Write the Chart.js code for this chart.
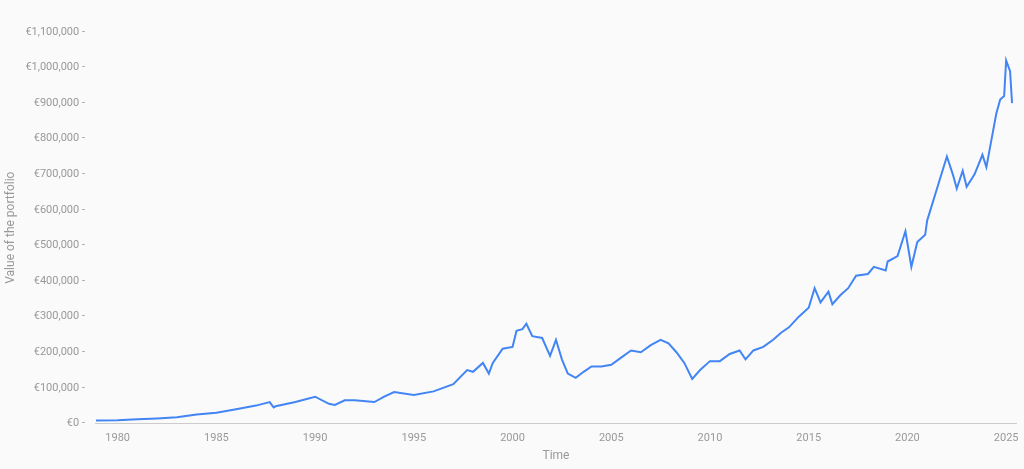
<!DOCTYPE html>
<html>
<head>
<script src="https://cdn.jsdelivr.net/npm/chart.js@4"></script>
<style>
body { margin: 0; background: #fafafa; }
#wrap { width: 1024px; height: 469px; }
</style>
</head>
<body>
<div id="wrap"><canvas id="myChart"></canvas></div>
<script>
var years = [1978.9, 1980, 1981, 1982, 1983, 1984, 1985, 1986, 1987, 1987.7, 1987.9, 1988, 1989, 1990, 1990.7, 1991, 1991.5, 1992, 1993, 1993.5, 1994, 1995, 1996, 1997, 1997.7, 1998, 1998.5, 1998.8, 1999, 1999.5, 2000, 2000.2, 2000.5, 2000.7, 2001, 2001.5, 2001.9, 2002.2, 2002.5, 2002.8, 2003.2, 2003.6, 2004, 2004.5, 2005, 2005.5, 2006, 2006.5, 2007, 2007.5, 2007.9, 2008.3, 2008.7, 2009.1, 2009.5, 2010, 2010.5, 2011, 2011.5, 2011.8, 2012.2, 2012.7, 2013.2, 2013.6, 2014, 2014.5, 2015, 2015.3, 2015.6, 2016, 2016.2, 2016.6, 2017, 2017.4, 2018, 2018.3, 2018.9, 2019, 2019.5, 2019.9, 2020.2, 2020.5, 2020.9, 2021, 2021.5, 2022, 2022.3, 2022.5, 2022.8, 2023, 2023.4, 2023.8, 2024, 2024.3, 2024.5, 2024.7, 2024.9, 2025, 2025.2, 2025.3];
var values = [8000, 9000, 12000, 14000, 17000, 25000, 30000, 40000, 50000, 60000, 45000, 48000, 60000, 75000, 55000, 52000, 65000, 65000, 60000, 75000, 88000, 80000, 90000, 110000, 150000, 145000, 170000, 140000, 170000, 210000, 215000, 260000, 265000, 280000, 245000, 240000, 190000, 235000, 180000, 140000, 128000, 145000, 160000, 160000, 165000, 185000, 205000, 200000, 220000, 235000, 225000, 200000, 170000, 125000, 150000, 175000, 175000, 195000, 205000, 180000, 205000, 215000, 235000, 255000, 270000, 300000, 325000, 380000, 340000, 370000, 335000, 360000, 380000, 415000, 420000, 440000, 430000, 455000, 470000, 540000, 440000, 510000, 530000, 570000, 660000, 750000, 700000, 660000, 710000, 665000, 700000, 755000, 720000, 810000, 870000, 910000, 920000, 1020000, 990000, 900000];
var xTicks = [1980, 1985, 1990, 1995, 2000, 2005, 2010, 2015, 2020, 2025];

var points = years.map(function (y, i) { return { x: y, y: values[i] }; });
var grey = '#999';

new Chart(document.getElementById('myChart'), {
    type: 'line',
    data: {
        datasets: [{
            data: points,
            borderColor: '#4285f4',
            borderWidth: 2,
            pointRadius: 0,
            tension: 0
        }]
    },
    options: {
        responsive: true,
        maintainAspectRatio: false,
        animation: false,
        layout: { padding: { top: 32, right: 8, bottom: 0, left: 0 } },
        plugins: { legend: { display: false }, tooltip: { enabled: false } },
        scales: {
            x: {
                type: 'linear',
                min: 1978.9,
                max: 2025.5,
                afterBuildTicks: function (axis) { axis.ticks = xTicks.map(function (v) { return { value: v }; }); },
                grid: { display: false },
                border: { color: '#ccc' },
                ticks: { padding: 0, color: grey, font: { family: 'Roboto', size: 11 }, callback: function (v) { return String(v); } },
                title: { display: true, text: 'Time', color: grey, font: { family: 'Roboto', size: 12 }, padding: { top: 4, bottom: 6 } }
            },
            y: {
                min: 0,
                max: 1100000,
                grid: { display: false },
                border: { display: false },
                ticks: {
                    stepSize: 100000,
                    color: grey,
                    font: { family: 'Roboto', size: 11 },
                    callback: function (v) { return '€' + v.toLocaleString('en-US') + ' -'; }
                },
                title: { display: true, text: 'Value of the portfolio', color: grey, font: { family: 'Roboto', size: 12 } }
            }
        }
    }
});
</script>
</body>
</html>
